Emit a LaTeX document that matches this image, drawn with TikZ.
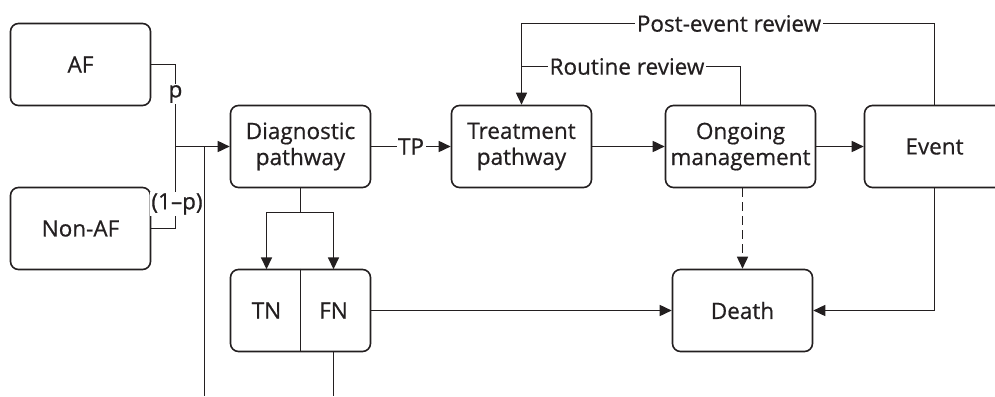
\documentclass[tikz,border=0pt]{standalone}
\usepackage{fontspec}
\setmainfont{Open Sans}[BoldFont=Open Sans, BoldFeatures={FakeBold=0.6}]
\usetikzlibrary{arrows.meta}
\definecolor{ink}{RGB}{35,31,32}
\tikzset{
  fnt/.style={font=\fontsize{22.5}{26}\selectfont\bfseries},
  box/.style={draw=ink, rounded corners=8pt, minimum width=140pt, minimum height=82pt, align=center, text=ink, fnt, line width=1.6pt, inner sep=2pt},
  txt/.style={minimum width=69pt, minimum height=82pt, text=ink, fnt, inner sep=0pt},
  lbl/.style={fill=white, text=ink, fnt, inner sep=1.5pt},
  conn/.style={draw=ink, line width=1.6pt},
  arr/.style={conn, -{Triangle[length=12pt,width=11pt]}},
}
\begin{document}
\begin{tikzpicture}[x=1pt,y=-1pt]
\useasboundingbox (0,0) rectangle (995,396);
% boxes
\node[box] (AF) at (80.5,64.5) {AF};
\node[box] (NonAF) at (80.5,228.5) {Non-AF};
\node[box] (Diag) at (300.5,146.5) {Diagnostic\\pathway};
\node[box] (Treat) at (521.5,146.5) {Treatment\\pathway};
\node[box, minimum width=150pt] (Ong) at (740.5,146.5) {Ongoing\\management};
\node[box] (Event) at (934.5,146.5) {Event};
\node[box] (Death) at (742.5,310.5) {Death};
\node[box] (TNFN) at (300.5,310.5) {};
\node[txt] (TN) at (266.5,310.5) {TN};
\node[txt] (FN) at (333.5,310.5) {FN};
\draw[conn] (TNFN.north) -- (TNFN.south);
% entry bracket
\coordinate (ja) at (175.5,64.5);
\coordinate (jb) at (175.5,228.5);
\coordinate (j) at (175.5,146.5);
\coordinate (k) at (204.5,146.5);
\coordinate (kb) at (204.5,396);
\draw[conn] (AF.east) -- (ja) -- (jb) -- (NonAF.east);
\node[lbl] (p) at (175.5,94) {p};
\node[lbl] (q) at (177,204) {(1–p)};
\draw[arr] (j) -- (Diag.west);
\draw[conn] (k) -- (kb);
% main row
\draw[arr] (Diag) -- node[lbl] (tp) {TP} (Treat);
\draw[arr] (Treat) -- (Ong);
\draw[arr] (Ong) -- (Event);
% reviews
\coordinate (pe) at (521.5,23.5);
\coordinate (rr) at (521.5,66.5);
\draw[arr] (Event.north) |- (pe) -- (Treat.north);
\draw[conn] (Ong.north) |- (rr);
\node[lbl] (pel) at (729,23.5) {Post-event review};
\node[lbl] (rrl) at (627,66.5) {Routine review};
% to death
\draw[arr, dashed, dash pattern=on 9pt off 5pt] (Death.north |- Ong.south) -- (Death.north);
\draw[arr] (TNFN.east) -- (Death.west);
\draw[arr] (Event.south) |- (Death.east);
% diagnostic split
\coordinate (s) at (300.5,212.5);
\draw[conn] (Diag.south) -- (s);
\draw[arr] (s) -| (TN.north);
\draw[arr] (s) -| (FN.north);
\coordinate (fb) at (333.5,396);
\draw[conn] (FN.south) -- (fb);
\end{tikzpicture}
\end{document}
